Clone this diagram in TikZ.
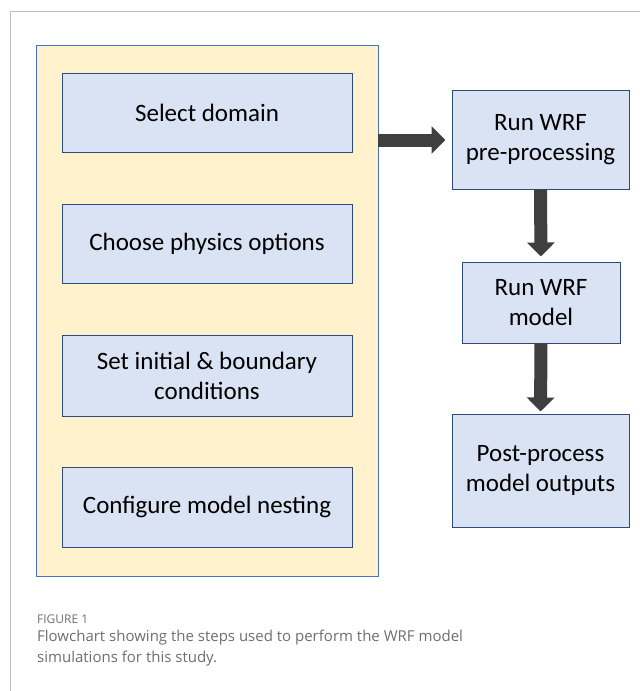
\documentclass[tikz,border=0pt]{standalone}
\usepackage{fontspec}
\setmainfont{Carlito}
\newfontfamily\capfont{Open Sans}
\usetikzlibrary{arrows.meta}
\definecolor{boxfill}{HTML}{DAE3F3}
\definecolor{boxline}{HTML}{2F4B7C}
\definecolor{panelfill}{HTML}{FFF2CC}
\definecolor{panelline}{HTML}{4472C4}
\definecolor{arrowgray}{HTML}{3F3F3F}
\definecolor{framegray}{HTML}{BDBDBD}
\definecolor{captiongray}{HTML}{6E6E6E}
\tikzset{
  stepbox/.style={draw=boxline, fill=boxfill, line width=1pt, align=center,
    font=\fontsize{25}{30}\selectfont, inner sep=0pt},
  bigarrow/.style={draw=arrowgray, line width=13pt,
    -{Triangle[width=27pt,length=14pt]}, arrowgray},
}
\begin{document}
\begin{tikzpicture}[x=1pt,y=-1pt]
\useasboundingbox (0,0) rectangle (640,691);
% page frame
\draw[framegray, line width=1.5pt] (10.5,691) -- (10.5,11.5) -- (640,11.5);
% configuration panel
\node[draw=panelline, fill=panelfill, line width=0.9pt, minimum width=342pt,
  minimum height=531pt, inner sep=0pt] (panel) at (207,310.5) {};
\node[stepbox, minimum width=290pt, minimum height=79pt] (dom) at (207,112.5) {Select domain};
\node[stepbox, minimum width=290pt, minimum height=79pt] (phys) at (207,243.5) {Choose physics options};
\node[stepbox, minimum width=290pt, minimum height=81pt] (init) at (207,375.5) {Set initial \& boundary\\conditions};
\node[stepbox, minimum width=290pt, minimum height=80pt] (nest) at (207,507) {Configure model nesting};
% processing chain
\node[stepbox, minimum width=177pt, minimum height=99pt] (pre) at (540.5,139.5) {Run WRF\\pre-processing};
\node[stepbox, minimum width=158pt, minimum height=81pt] (model) at (541,302.5) {Run WRF\\model};
\node[stepbox, minimum width=177pt, minimum height=113pt] (post) at (540.5,470.5) {Post-process\\model outputs};
\coordinate (pstart) at (panel.east |- 0,140);
\draw[bigarrow, shorten >=6pt] (pstart) -- (pstart -| pre.west);
\draw[bigarrow, shorten >=5pt] (pre.south) -- (model.north);
\draw[bigarrow, shorten >=2pt] (model.south) -- (post.north);
% caption
\node[anchor=base west, inner sep=0pt, text=captiongray,
  font=\capfont\fontsize{12}{14}\selectfont] (figlabel) at (37,623) {FIGURE 1};
\node[anchor=north west, inner sep=0pt, text=captiongray, align=left,
  font=\capfont\fontsize{15}{21}\selectfont] (caption) at (37,630)
  {Flowchart showing the steps used to perform the WRF model\\simulations for this study.};
\end{tikzpicture}
\end{document}
